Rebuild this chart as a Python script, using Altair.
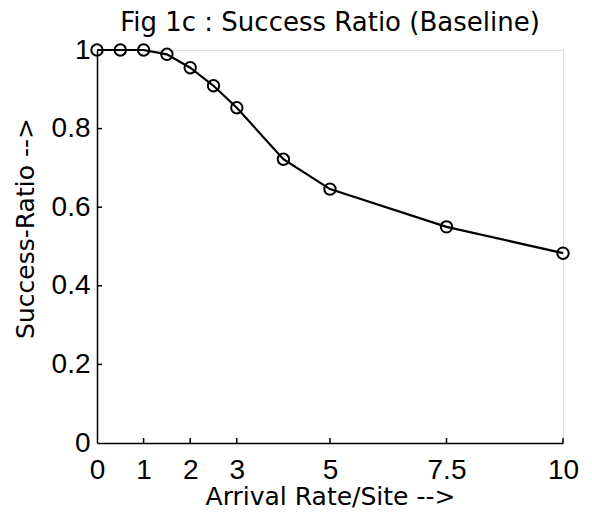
import altair as alt
import pandas as pd

# data
arrival_rate = [0, 0.5, 1, 1.5, 2, 2.5, 3, 4, 5, 7.5, 10]
success_ratio = [1.0, 1.0, 1.0, 0.989, 0.955, 0.909, 0.853, 0.722, 0.646, 0.550, 0.483]

x_ticks = [0, 1, 2, 3, 5, 7.5, 10]
y_ticks = [0, 0.2, 0.4, 0.6, 0.8, 1]

df = pd.DataFrame({"x": arrival_rate, "y": success_ratio})
xt = pd.DataFrame({"t": x_ticks[1:]})
yt = pd.DataFrame({"t": y_ticks[1:-1]})

W, H = 466, 393
FONT = "Liberation Sans"
TFONT = "DejaVu Sans"

xscale = alt.Scale(domain=[0, 10], nice=False, zero=False)
yscale = alt.Scale(domain=[0, 1], nice=False, zero=False)

xaxis = alt.Axis(
    values=x_ticks, title="Arrival Rate/Site -->", grid=False, ticks=False,
    labelExpr="datum.value == 7.5 ? '7.5' : format(datum.value, 'd')",
    labelFontSize=28, titleFontSize=25, labelPadding=13, titlePadding=0,
    domainColor="black", domainWidth=1.5, labelColor="black", titleColor="black",
    labelFont=FONT, titleFont=TFONT, titleFontWeight="normal", labelFlush=False,
)
yaxis = alt.Axis(
    values=y_ticks, title="Success-Ratio -->", grid=False, ticks=False,
    labelExpr="datum.value == 0 ? '0' : datum.value == 1 ? '1' : format(datum.value, '.1f')",
    labelFontSize=28, titleFontSize=25, labelPadding=7, titlePadding=13,
    titleY=178,
    domainColor="black", domainWidth=1.5, labelColor="black", titleColor="black",
    labelFont=FONT, titleFont=TFONT, titleFontWeight="normal", labelFlush=False,
)

base = alt.Chart(df)
line = base.mark_line(color="black", strokeWidth=2.2, clip=False).encode(
    x=alt.X("x:Q", scale=xscale, axis=xaxis),
    y=alt.Y("y:Q", scale=yscale, axis=yaxis),
)
pts = base.mark_point(shape="circle", size=130, filled=False, color="black",
                      strokeWidth=2, opacity=1, clip=False).encode(
    x=alt.X("x:Q", scale=xscale),
    y=alt.Y("y:Q", scale=yscale),
)
xtick = alt.Chart(xt).mark_rule(color="black", strokeWidth=1.5).encode(
    x=alt.X("t:Q", scale=xscale), y=alt.value(H), y2=alt.value(H - 5)
)
ytick = alt.Chart(yt).mark_rule(color="black", strokeWidth=1.5).encode(
    y=alt.Y("t:Q", scale=yscale), x=alt.value(0), x2=alt.value(5)
)

chart = alt.layer(xtick, ytick, line, pts).properties(
    width=W, height=H,
    title=alt.TitleParams("Fig 1c : Success Ratio (Baseline)", fontSize=26,
                          font=TFONT, fontWeight="normal", color="black",
                          anchor="middle", offset=0),
    autosize=alt.AutoSizeParams(type="none"),
    padding={"left": 89, "top": 42, "right": 21, "bottom": 72},
).configure_view(stroke=None).configure(background="white")

chart.save("out.html", embed_options={"renderer": "svg", "actions": False})
